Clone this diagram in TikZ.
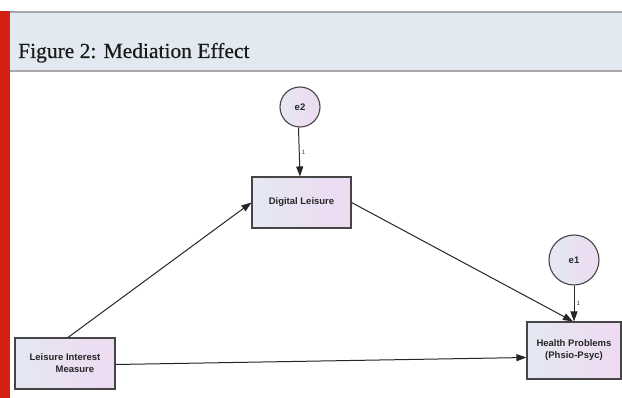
\documentclass[tikz,border=0pt]{standalone}
\usepackage{fontspec}
\setmainfont{Liberation Serif}
\newfontfamily\boxfont{Liberation Sans}
\usepackage{xcolor}
\usetikzlibrary{arrows.meta, positioning}

\definecolor{hdrband}{HTML}{E3E9F0}
\definecolor{hdrline}{HTML}{A8A8A8}
\definecolor{barred}{HTML}{D42012}
\definecolor{boxleft}{HTML}{E4E8F2}
\definecolor{boxright}{HTML}{EEDAF2}
\definecolor{edge}{HTML}{454545}

\begin{document}
\begin{tikzpicture}[x=1pt, y=-1pt,
    box/.style={draw=edge, line width=1.1pt, left color=boxleft, right color=boxright,
                font=\boxfont\bfseries\fontsize{9.5}{12}\selectfont, text=black!85, inner sep=0pt},
    err/.style={circle, draw=edge, line width=1.1pt, left color=boxleft, right color=boxright,
                font=\boxfont\bfseries\fontsize{9.5}{12}\selectfont, text=black!85, inner sep=0pt},
    arr/.style={-{Triangle[length=10pt, width=7pt]}, line width=1pt, black!85},
    lbl/.style={font=\boxfont\fontsize{6}{7}\selectfont, text=black!80, inner sep=2pt}]
  \useasboundingbox (0,0) rectangle (622,398);
  \fill[white] (0,0) rectangle (622,398);

  % header
  \fill[hdrband] (10,11) rectangle (622,71);
  \draw[hdrline, line width=2pt] (10,12) -- (622,12);
  \draw[hdrline, line width=2pt] (10,71) -- (622,71);
  \fill[barred] (0,11) rectangle (10,398);
  \node[anchor=base west, font=\fontsize{21.5}{24}\selectfont\addfontfeature{FakeBold=0.4},
        text=black!90, inner sep=0pt] (title) at (18,58) {Figure 2: Mediation Effect};

  % model
  \node[box, minimum width=100pt, minimum height=51pt, align=left] (lim) at (65,363.5)
    {Leisure Interest\\\hspace*{26pt}Measure};
  \node[box, minimum width=99pt, minimum height=51pt] (dl) at (301.5,202.5) {Digital Leisure};
  \node[box, minimum width=94pt, minimum height=57pt, align=center] (hp) at (574,350.5)
    {Health Problems\\(Phsio-Psyc)};
  \node[err, minimum size=40pt] (e2) at (300,107) {e2};
  \node[err, minimum size=50pt] (e1) at (574,260) {e1};

  \draw[arr] ([xshift=3pt]lim.north) -- (dl.west);
  \draw[arr] (dl.east) -- ([xshift=-1pt]hp.north);
  \draw[arr] ([yshift=-1pt]lim.east) -- ([yshift=-7pt]hp.west);
  \draw[arr] ([xshift=-1.5pt]e2.south) -- node[lbl, right] (w2) {1} ([xshift=-1.5pt]dl.north);
  \draw[arr] (e1.south) -- node[lbl, right] (w1) {1} (hp.north);
\end{tikzpicture}
\end{document}
